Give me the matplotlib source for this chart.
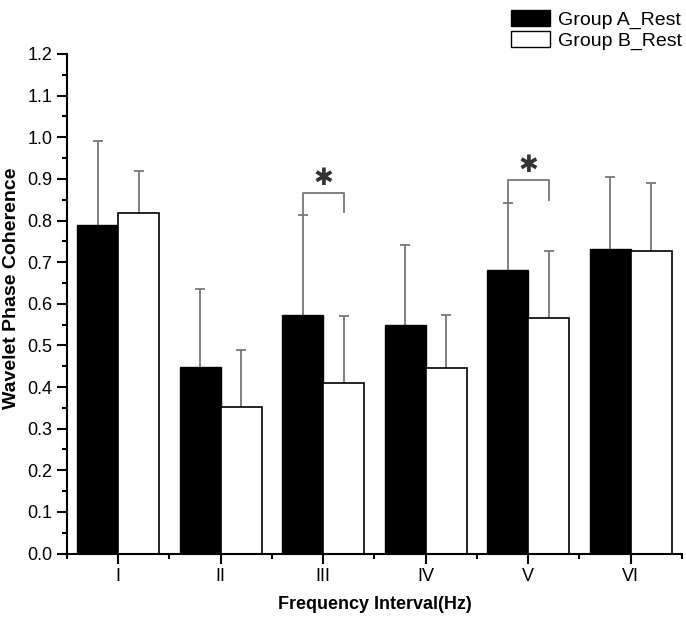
import matplotlib
matplotlib.use("Agg")
import matplotlib.pyplot as plt
import numpy as np
from matplotlib.ticker import MultipleLocator, FixedLocator
from matplotlib.patches import Patch

plt.rcParams['font.family'] = ['Liberation Sans', 'DejaVu Sans']

categories = ['I', 'II', 'III', 'IV', 'V', 'VI']
group_a = [0.789, 0.448, 0.574, 0.548, 0.681, 0.732]
group_a_err = [0.201, 0.187, 0.240, 0.194, 0.162, 0.172]
group_b = [0.818, 0.353, 0.410, 0.445, 0.566, 0.726]
group_b_err = [0.101, 0.137, 0.160, 0.127, 0.160, 0.163]
# significance brackets: (category index, bracket top, right-leg bottom)
sig_idx = [2, 4]
sig_top = [0.866, 0.897]
sig_right_bottom = [0.820, 0.849]

fig = plt.figure(figsize=(6.86, 6.25), dpi=100)
ax = fig.add_axes([0.0977, 0.1144, 0.8963, 0.7992])

x = np.arange(1, len(categories) + 1)
w = 0.4
cap = 0.05
err_col = '#777777'
xa = x - w/2
xb = x + w/2
ax.bar(xa, group_a, w, color='black', edgecolor='black', linewidth=1, zorder=2)
ax.bar(xb, group_b, w, color='white', edgecolor='black', linewidth=1.2, zorder=2)

for xs, vals, errs in [(xa, group_a, group_a_err), (xb, group_b, group_b_err)]:
    vals = np.array(vals); errs = np.array(errs)
    ax.vlines(xs, vals, vals + errs, color=err_col, linewidth=1.3, zorder=1)
    ax.hlines(vals + errs, xs - cap, xs + cap, color=err_col, linewidth=1.3, zorder=1)

for i, top, rb in zip(sig_idx, sig_top, sig_right_bottom):
    xl = x[i] - w/2
    xr = x[i] + w/2
    left_bottom = group_a[i] + group_a_err[i]
    ax.plot([xl, xl, xr, xr], [left_bottom, top, top, rb], color=err_col, linewidth=1.3)
    ax.text(x[i], top + 0.037, '\u2731', ha='center', va='center', fontsize=17,
            color='#333333', family=['DejaVu Sans'])

ax.set_xlim(0.5, 6.5)
ax.set_ylim(0, 1.2)
ax.set_xticks(x)
ax.set_xticklabels(categories)
ax.xaxis.set_minor_locator(FixedLocator(np.arange(0.5, 7.0, 1.0)))
yt = np.round(np.arange(0, 1.21, 0.1), 2)
ax.yaxis.set_major_locator(FixedLocator(yt))
ax.set_yticklabels([f'{v:.1f}' for v in yt])
ax.yaxis.set_minor_locator(MultipleLocator(0.05))

for s in ['top', 'right']:
    ax.spines[s].set_visible(False)
for s in ['left', 'bottom']:
    ax.spines[s].set_linewidth(1.5)
ax.tick_params(axis='both', which='major', direction='out', length=7, width=1.5, labelsize=13)
ax.tick_params(axis='both', which='minor', direction='out', length=3.5, width=1.5)

ax.set_xlabel('Frequency Interval(Hz)', fontsize=13, fontweight='bold', labelpad=8)
ax.set_ylabel('Wavelet Phase Coherence', fontsize=14, fontweight='bold', labelpad=4)
ax.yaxis.set_label_coords(-0.077, 0.532)

handles = [Patch(facecolor='black', edgecolor='black', label='Group A_Rest'),
           Patch(facecolor='white', edgecolor='black', label='Group B_Rest')]
fig.legend(handles=handles, loc='upper right', bbox_to_anchor=(1.008, 1.0),
           frameon=False, fontsize=14, handlelength=2.0, handleheight=0.9,
           labelspacing=0.1, handletextpad=0.4, borderaxespad=0.1)

fig.savefig('out.png', dpi=100)
